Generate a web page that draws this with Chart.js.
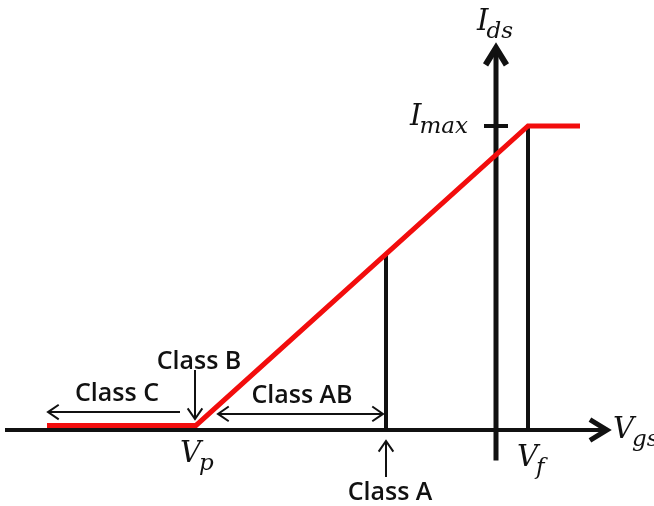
<!DOCTYPE html>
<html>
<head>
<meta charset="utf-8">
<script src="https://cdn.jsdelivr.net/npm/chart.js@4.4.1/dist/chart.umd.min.js"></script>
<style>
  html, body { margin: 0; padding: 0; background: #fff; }
  #wrap { width: 654px; height: 506px; position: relative; }
</style>
</head>
<body>
<div id="wrap"><canvas id="chart"></canvas></div>
<script>
// Vgs in arbitrary units (Ids axis at 0), Ids normalised so that Imax = 1
const transferVgs = [-4.49, -3.0, 0.32, 0.84];
const transferIds = [0.015, 0.015, 1.0, 1.0];

const vgsAxisVgs = [-4.91, 1.11];
const idsAxisIds = [-0.10, 1.257];
const imaxTickVgs = [-0.12, 0.12];

const biasA = -1.1;          // class A bias point
const biasAIds = [0, 0.579];
const vf = 0.32;
const vfIds = [0, 1.0];

// class arrows
const classCVgs = [-3.16, -4.48];
const classCIds = 0.059;
const classBVgs = -3.01;
const classBIds = [0.197, 0.036];
const classABVgs = [-2.78, -1.13];
const classABIds = 0.053;
const classAIds = [-0.155, -0.036];

const classLabels = ['Class C', 'Class B', 'Class AB', 'Class A'];
const classLabelVgs = [-3.79, -2.97, -1.94, -1.06];
const classLabelIds = [0.095, 0.201, 0.089, -0.230];   // baselines

// axis / level names, anchored at the left end of the baseline
const mathLabels = [
  { main: 'V', sub: 'p',   x: -3.16, y: -0.105 },
  { main: 'V', sub: 'f',   x: 0.21,  y: -0.118 },
  { main: 'V', sub: 'gs',  x: 1.17,  y: -0.026 },
  { main: 'I', sub: 'ds',  x: -0.19, y: 1.316 },
  { main: 'I', sub: 'max', x: -0.86, y: 1.003 }
];

function pts(xs, ys) {
  return xs.map((x, i) => ({ x: x, y: ys[i] }));
}

const black = '#111';
const red = '#f20d0d';

function line(data, color, width, extra) {
  return Object.assign({
    data: data,
    borderColor: color,
    borderWidth: width,
    pointRadius: 0,
    showLine: true,
    tension: 0,
    borderCapStyle: 'butt',
    fill: false
  }, extra || {});
}

const datasets = [
  line(pts(transferVgs, transferIds), red, 5),
  line(pts([biasA, biasA], biasAIds), black, 4),
  line(pts([vf, vf], vfIds), black, 4),
  line(pts(imaxTickVgs, [1.0, 1.0]), black, 4),
  line(pts(vgsAxisVgs, [0, 0]), black, 4, { arrowEnd: 'solid' }),
  line(pts([0, 0], idsAxisIds), black, 5, { arrowEnd: 'solid' }),
  line(pts(classCVgs, [classCIds, classCIds]), black, 2, { arrowEnd: 'open' }),
  line(pts([classBVgs, classBVgs], classBIds), black, 2, { arrowEnd: 'open' }),
  line(pts(classABVgs, [classABIds, classABIds]), black, 2, { arrowEnd: 'open', arrowStart: 'open' }),
  line(pts([biasA, biasA], classAIds), black, 2, { arrowEnd: 'open' })
];

function drawHead(ctx, tip, from, kind, color, width) {
  const ang = Math.atan2(tip.y - from.y, tip.x - from.x);
  const len = kind === 'solid' ? 20 : 13;
  const spread = kind === 'solid' ? 0.55 : 0.6;
  ctx.save();
  ctx.strokeStyle = color;
  ctx.lineWidth = kind === 'solid' ? width + 1 : 2;
  ctx.lineJoin = 'miter';
  ctx.lineCap = 'butt';
  ctx.beginPath();
  ctx.moveTo(tip.x - len * Math.cos(ang - spread), tip.y - len * Math.sin(ang - spread));
  ctx.lineTo(tip.x, tip.y);
  ctx.lineTo(tip.x - len * Math.cos(ang + spread), tip.y - len * Math.sin(ang + spread));
  ctx.stroke();
  ctx.restore();
}

const arrowPlugin = {
  id: 'arrows',
  afterDatasetsDraw(chart) {
    const ctx = chart.ctx;
    chart.data.datasets.forEach((ds, i) => {
      const pts = chart.getDatasetMeta(i).data;
      if (ds.arrowEnd) {
        drawHead(ctx, pts[pts.length - 1], pts[pts.length - 2], ds.arrowEnd, ds.borderColor, ds.borderWidth);
      }
      if (ds.arrowStart) {
        drawHead(ctx, pts[0], pts[1], ds.arrowStart, ds.borderColor, ds.borderWidth);
      }
    });
  }
};

const labelPlugin = {
  id: 'labels',
  afterDraw(chart) {
    const ctx = chart.ctx;
    const sx = chart.scales.x, sy = chart.scales.y;
    ctx.save();
    ctx.fillStyle = black;
    ctx.textBaseline = 'alphabetic';
    ctx.textAlign = 'center';
    ctx.font = '600 25px "Open Sans"';
    classLabels.forEach((t, i) => {
      ctx.fillText(t, sx.getPixelForValue(classLabelVgs[i]), sy.getPixelForValue(classLabelIds[i]));
    });

    ctx.textAlign = 'left';
    const mainFont = 'italic 29px "DejaVu Serif"';
    const subFont = 'italic 23px "DejaVu Serif"';
    mathLabels.forEach(l => {
      const x = sx.getPixelForValue(l.x);
      const y = sy.getPixelForValue(l.y);
      ctx.font = mainFont;
      const wm = ctx.measureText(l.main).width;
      ctx.fillText(l.main, x, y);
      ctx.font = subFont;
      ctx.fillText(l.sub, x + wm - 2, y + 8);
    });
    ctx.restore();
  }
};

new Chart(document.getElementById('chart'), {
  type: 'scatter',
  data: { datasets: datasets },
  options: {
    responsive: true,
    maintainAspectRatio: false,
    animation: false,
    layout: { padding: 0 },
    plugins: {
      legend: { display: false },
      tooltip: { enabled: false }
    },
    scales: {
      x: { type: 'linear', display: false, min: -4.96, max: 1.58 },
      y: { type: 'linear', display: false, min: -0.2500, max: 1.4145 }
    }
  },
  plugins: [arrowPlugin, labelPlugin]
});
</script>
</body>
</html>
